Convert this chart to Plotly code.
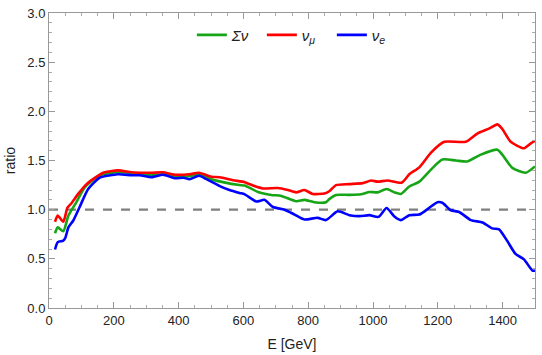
import plotly.graph_objects as go

# nu_mu (red)
mu_x = [18.5, 27, 44, 57, 68, 90, 116, 136, 167, 213, 255, 296, 316, 352, 388, 434, 463, 501, 527, 568,
        604, 634, 660, 706, 737, 763, 788, 814, 850, 866, 886, 927, 968, 994, 1014, 1045, 1089, 1112,
        1143, 1179, 1220, 1286, 1322, 1358, 1384, 1399, 1425, 1466, 1487, 1500]
mu_y = [0.877, 0.94, 0.877, 1.02, 1.06, 1.16, 1.26, 1.31, 1.375, 1.40, 1.38, 1.375, 1.375, 1.38, 1.355,
        1.36, 1.375, 1.335, 1.33, 1.30, 1.28, 1.24, 1.216, 1.22, 1.20, 1.176, 1.20, 1.16, 1.165, 1.19,
        1.25, 1.26, 1.27, 1.296, 1.285, 1.296, 1.276, 1.36, 1.43, 1.58, 1.69, 1.69, 1.774, 1.824, 1.867,
        1.82, 1.69, 1.625, 1.674, 1.70]

# sum nu (green)
sum_x = [18.5, 27, 44, 60, 85, 111, 157, 213, 280, 316, 352, 388, 434, 463, 501, 537, 588, 604, 645,
         686, 717, 763, 788, 819, 855, 866, 886, 927, 963, 989, 1014, 1042, 1066, 1086, 1112, 1143,
         1184, 1214, 1256, 1291, 1333, 1384, 1399, 1430, 1471, 1500]
sum_y = [0.76, 0.82, 0.78, 0.94, 1.08, 1.23, 1.35, 1.38, 1.365, 1.35, 1.36, 1.34, 1.34, 1.36, 1.31,
         1.28, 1.25, 1.245, 1.18, 1.15, 1.14, 1.086, 1.10, 1.076, 1.076, 1.11, 1.15, 1.15, 1.156, 1.18,
         1.176, 1.21, 1.176, 1.16, 1.236, 1.285, 1.425, 1.51, 1.50, 1.49, 1.56, 1.61, 1.56, 1.425,
         1.375, 1.44]

# nu_e (blue)
e_x = [18.5, 27, 44, 50, 60, 75, 95, 121, 157, 213, 255, 280, 316, 352, 388, 415, 434, 463, 486, 527,
       557, 588, 604, 640, 665, 691, 727, 758, 788, 829, 855, 891, 927, 958, 989, 1017, 1042, 1066,
       1086, 1112, 1143, 1173, 1199, 1214, 1240, 1266, 1302, 1338, 1368, 1389, 1415, 1440, 1466,
       1492, 1500]
e_y = [0.595, 0.67, 0.685, 0.71, 0.82, 0.89, 1.03, 1.21, 1.325, 1.36, 1.35, 1.35, 1.33, 1.355, 1.32,
       1.325, 1.31, 1.345, 1.31, 1.24, 1.20, 1.17, 1.156, 1.083, 1.10, 1.027, 1.00, 0.95, 0.90, 0.917,
       0.894, 0.983, 0.944, 0.934, 0.944, 0.927, 1.017, 0.93, 0.894, 0.944, 0.95, 1.017, 1.076, 1.07,
       0.994, 0.977, 0.894, 0.87, 0.81, 0.80, 0.678, 0.55, 0.495, 0.38, 0.38]

ref_x = [0, 1500]
ref_y = [1.0, 1.0]

fig = go.Figure()
fig.add_trace(go.Scatter(x=ref_x, y=ref_y, mode="lines", showlegend=False,
                         line=dict(color="#7f7f7f", width=2.2, dash="dash")))
fig.add_trace(go.Scatter(x=sum_x, y=sum_y, mode="lines", name="<i>Σν</i>",
                         line=dict(color="#16a516", width=2.6, shape="spline", smoothing=0.6)))
fig.add_trace(go.Scatter(x=mu_x, y=mu_y, mode="lines", name="<i>ν</i><sub><i>μ</i></sub>",
                         line=dict(color="#ff0000", width=2.6, shape="spline", smoothing=0.6)))
fig.add_trace(go.Scatter(x=e_x, y=e_y, mode="lines", name="<i>ν</i><sub><i>e</i></sub>",
                         line=dict(color="#0000ff", width=2.6, shape="spline", smoothing=0.6)))

axis_common = dict(showline=True, linecolor="#999999", linewidth=1, mirror="allticks",
                   ticks="inside", tickcolor="#999999", ticklen=6, showgrid=False, zeroline=False,
                   ticklabeloverflow="allow",
                   tickfont=dict(family="Liberation Sans, Arial", size=13, color="#222222"))
fig.update_xaxes(range=[0, 1500], dtick=200, tick0=0,
                 minor=dict(dtick=50, ticks="inside", ticklen=3, tickcolor="#aaaaaa"),
                 title=dict(text="E [GeV]", font=dict(family="Liberation Sans, Arial", size=14, color="#222222"),
                            standoff=12),
                 **axis_common)
fig.update_yaxes(range=[0, 3.0], dtick=0.5, tick0=0, tickformat=".1f",
                 minor=dict(dtick=0.1, ticks="inside", ticklen=3, tickcolor="#aaaaaa"),
                 title=dict(text="ratio", font=dict(family="Liberation Sans, Arial", size=14, color="#222222"),
                            standoff=8),
                 **axis_common)
fig.update_layout(width=542, height=355, margin=dict(l=49, r=6, t=7, b=47),
                  plot_bgcolor="white", paper_bgcolor="white",
                  legend=dict(orientation="h", x=0.51, xanchor="center", y=0.925, yanchor="middle",
                              bgcolor="rgba(0,0,0,0)", entrywidth=25, entrywidthmode="pixels",
                              font=dict(family="Liberation Sans, Arial", size=15, color="#222222")))
fig.write_html("out.html")
